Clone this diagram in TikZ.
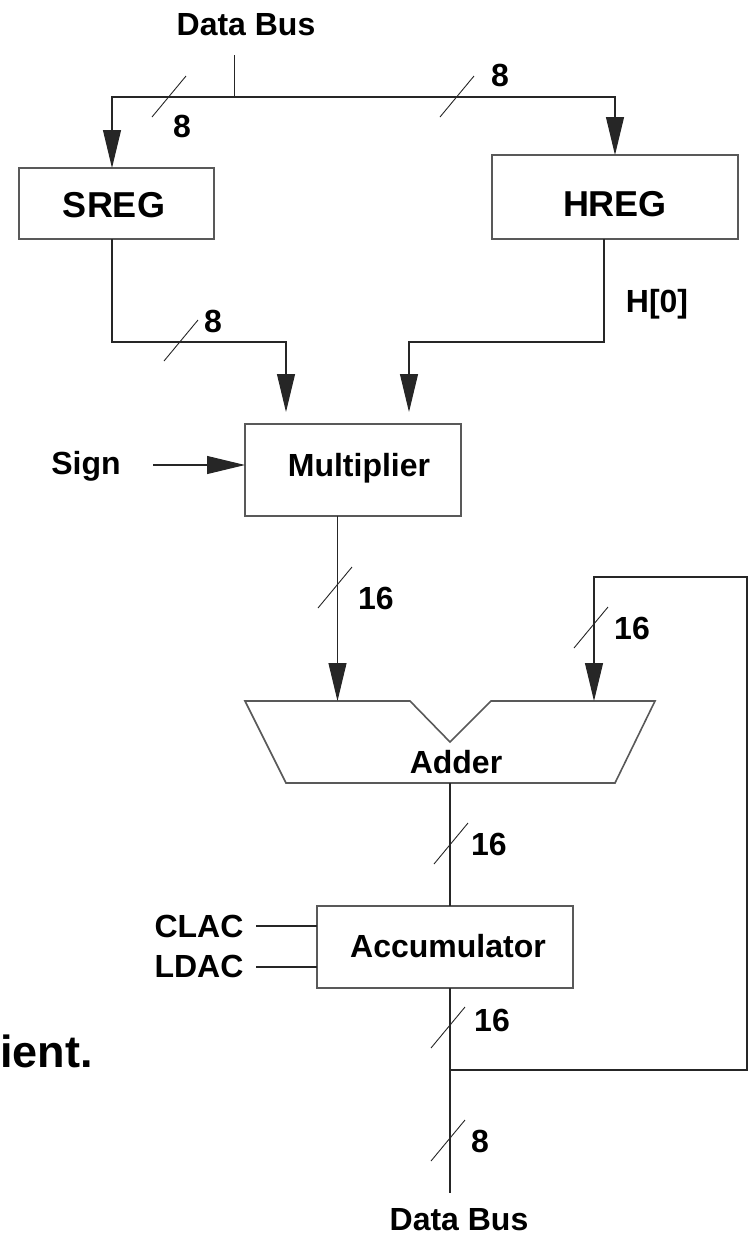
\documentclass[tikz,border=0pt]{standalone}
\usepackage{fontspec}
\setmainfont{Liberation Sans}
\usetikzlibrary{arrows.meta,calc}

\begin{document}
\begin{tikzpicture}[x=1pt,y=-1pt,
  wire/.style={line width=1.1pt, draw=black!85},
  arr/.style={wire, -{Triangle[length=38pt,width=18pt]}},
  block/.style={draw=black!65, line width=1.6pt, fill=white, inner sep=0pt},
  lbl/.style={font=\fontsize{32}{37}\selectfont\bfseries, anchor=base, inner sep=0pt},
  biglbl/.style={font=\fontsize{36}{42}\selectfont\bfseries, anchor=base, inner sep=0pt},
  tick/.style={line width=0.9pt, draw=black!85},
  bustick/.pic={\draw[tick] (-17,20) -- (17,-21);}
]
\useasboundingbox (0,0) rectangle (749,1235);

% ---- blocks ----
\node[block, minimum width=195pt, minimum height=71pt] (sreg) at (116.5,203.5) {};
\node[block, minimum width=246pt, minimum height=84pt] (hreg) at (615,197) {};
\node[block, minimum width=216pt, minimum height=92pt] (mult) at (353,470) {};
\node[block, minimum width=256pt, minimum height=82pt] (acc) at (445,947) {};
\draw[block] (245,701) -- (410,701) -- (450,742) -- (491,701) -- (655,701)
  -- (615,783) -- (286,783) -- cycle;

% ---- texts ----
\node[lbl] (dbtop) at (246,35) {Data Bus};
\node[biglbl] (sregt) at (114,217) {SREG};
\node[biglbl] (hregt) at (615,216) {HREG};
\node[lbl] (h0) at (657,312) {H[0]};
\node[lbl] (sign) at (86,474) {Sign};
\node[lbl] (multt) at (359,476) {Multiplier};
\node[lbl] (addt) at (456,773) {Adder};
\node[lbl] (clac) at (199,937) {CLAC};
\node[lbl] (ldac) at (199,977) {LDAC};
\node[lbl] (acct) at (448,957) {Accumulator};
\node[lbl] (dbbot) at (459,1230) {Data Bus};
\node[font=\fontsize{45}{52}\selectfont\bfseries, anchor=base east, inner sep=0pt] (tail) at (93,1067) {ient.};

% bus widths
\node[lbl] (w1) at (182,137) {8};
\node[lbl] (w2) at (500,86) {8};
\node[lbl] (w3) at (213,332) {8};
\node[lbl] (w4) at (376,609) {16};
\node[lbl] (w5) at (632,639) {16};
\node[lbl] (w6) at (489,855) {16};
\node[lbl] (w7) at (492,1031) {16};
\node[lbl] (w8) at (480,1152) {8};

% ---- connection points ----
\coordinate (dbtopend) at (234.5,55);
\coordinate (busjoin) at (234.5,97);
\coordinate (sregin) at (112,168);
\coordinate (hregin) at (615,155);
\coordinate (sregout) at (112,239);
\coordinate (sbend) at (286,342);
\coordinate (multinL) at (286,424);
\coordinate (hregout) at (604,239);
\coordinate (hbend) at (409,342);
\coordinate (multinR) at (409,424);
\coordinate (signend) at (153,465);
\coordinate (multsign) at (245,465);
\coordinate (multout) at (337.5,516);
\coordinate (addL) at (337.5,701);
\coordinate (addR) at (594,701);
\coordinate (addout) at (450,783);
\coordinate (accin) at (450,906);
\coordinate (accout) at (450,988);
\coordinate (fbjoin) at (450,1070);
\coordinate (fbcorner) at (747,577);
\coordinate (dbbotend) at (450,1193);
\coordinate (clacin) at (317,926);
\coordinate (ldacin) at (317,967);

% ---- connectors ----
\draw[wire] (dbtopend) -- (busjoin);
\draw[arr] (busjoin) -| (sregin);
\draw[arr] (busjoin) -| (hregin);
\draw[arr, shorten >=12pt] (sregout) |- (sbend) -- (multinL);
\draw[arr, shorten >=12pt] (hregout) |- (hbend) -- (multinR);
\draw[arr] (signend) -- (multsign);
\draw[arr] (multout) -- (addL);
\draw[wire] (addout) -- (accin);
\draw[wire] (accout) -- (dbbotend);
\draw[arr] (fbjoin) -| (fbcorner) -| (addR);
\draw[wire] ($(clacin)+(-61,0)$) -- (clacin);
\draw[wire] ($(ldacin)+(-61,0)$) -- (ldacin);

% bus width marks
\pic at (169,97) {bustick};
\pic at (457,97) {bustick};
\pic at (181,341) {bustick};
\pic at (335,588) {bustick};
\pic at (591,628) {bustick};
\pic at (451,844) {bustick};
\pic at (448,1028) {bustick};
\pic at (448,1141) {bustick};
\end{tikzpicture}
\end{document}
